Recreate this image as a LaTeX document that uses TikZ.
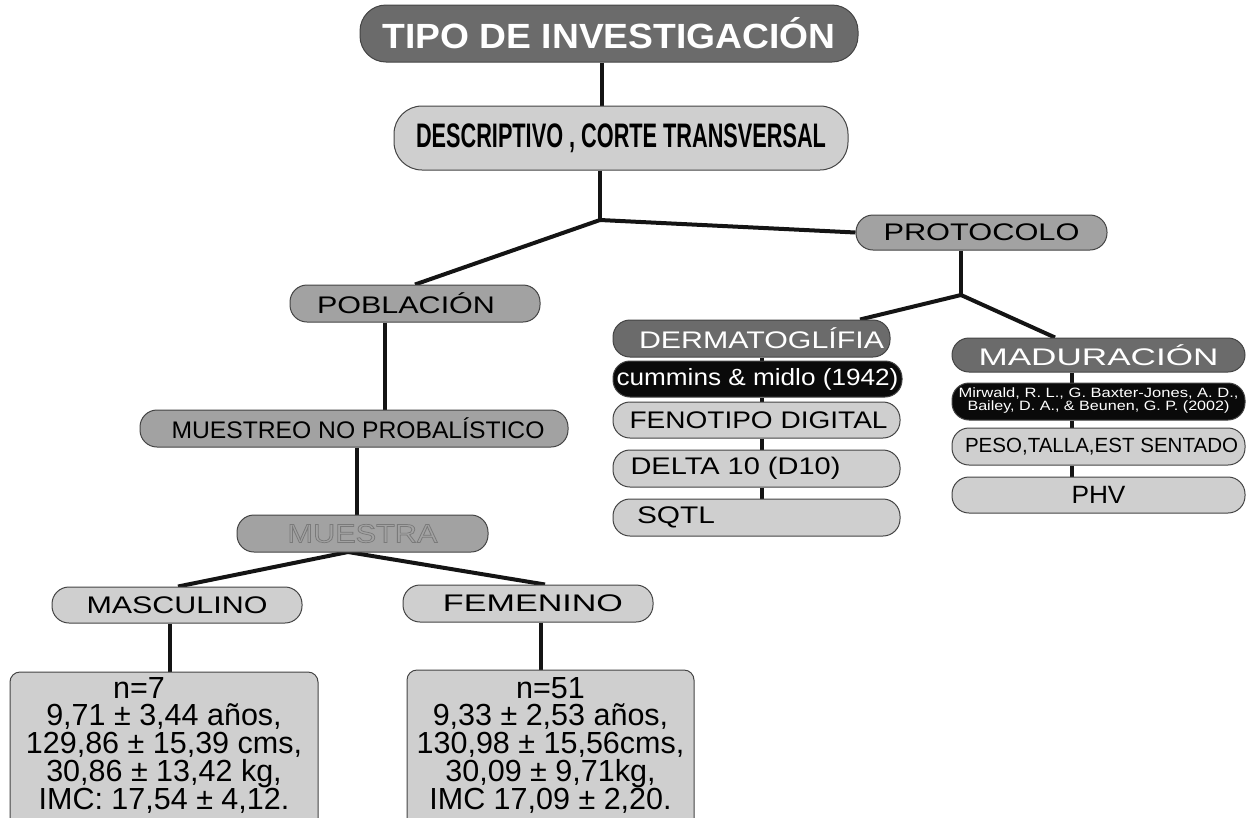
\documentclass[tikz,border=0pt]{standalone}
\usepackage{fontspec}
\setmainfont{Liberation Sans}
\usepackage{graphicx}
\usetikzlibrary{backgrounds}
\definecolor{dk}{HTML}{6B6B6B}
\definecolor{md}{HTML}{A2A2A2}
\definecolor{lt}{HTML}{CFCFCF}
\definecolor{bd}{HTML}{444444}
\definecolor{blk}{HTML}{0A0A0A}
\definecolor{outl}{HTML}{7A7A7A}
\newcommand{\tx}[3]{{\fontsize{#2}{#2}\selectfont\resizebox{#1}{\height}{#3}}}
\tikzset{
  pill/.style={draw=bd, line width=1pt, rounded corners=17pt, inner sep=0pt, text=black},
  darkpill/.style={pill, fill=dk, text=white},
  midpill/.style={pill, fill=md},
  lightpill/.style={pill, fill=lt},
  blackpill/.style={pill, fill=blk, text=white},
  statbox/.style={draw=bd, line width=1pt, rounded corners=10pt, fill=lt, inner sep=0pt},
  stattext/.style={anchor=north, align=center, inner sep=0pt, font=\fontsize{30.5pt}{27.8pt}\selectfont},
  conn/.style={line width=4pt, draw=black!92}
}
\begin{document}
\begin{tikzpicture}[x=1pt,y=-1pt]
\useasboundingbox (0,0) rectangle (1249,817);
% top
\node[darkpill, minimum width=498pt, minimum height=57pt, rounded corners=26pt] (tipo) at (609,33.5)
  {\tx{453pt}{35pt}{\bfseries TIPO DE INVESTIGACIÓN}};
\node[lightpill, minimum width=454pt, minimum height=64pt, rounded corners=28pt] (desc) at (621,138)
  {\tx{410pt}{34pt}{\bfseries DESCRIPTIVO , CORTE TRANSVERSAL}};
\node[midpill, minimum width=251pt, minimum height=35pt] (proto) at (981.5,232.5)
  {\tx{196pt}{24pt}{PROTOCOLO}};
% left branch
\node[midpill, minimum width=250pt, minimum height=37pt] (pobl) at (415,303.5)
  {\tx{178pt}{24pt}{POBLACIÓN}\hspace*{18pt}};
\node[midpill, minimum width=428pt, minimum height=37pt] (muestreo) at (354,428.5)
  {\hspace*{8pt}\tx{373pt}{24pt}{MUESTREO NO PROBALÍSTICO}};
\node[midpill, minimum width=251pt, minimum height=37pt] (muestra) at (362.5,533.5)
  {\tx{150pt}{26pt}{\special{pdf:literal direct 1 Tr 0.7 w}\textcolor{outl}{MUESTRA}\special{pdf:literal direct 0 Tr}}};
\node[lightpill, minimum width=250pt, minimum height=36pt] (masc) at (177,605)
  {\tx{181pt}{24pt}{MASCULINO}};
\node[lightpill, minimum width=250pt, minimum height=37pt] (fem) at (528,603.5)
  {\hspace*{10pt}\tx{180pt}{24pt}{FEMENINO}};
\node[statbox, minimum width=308pt, minimum height=160pt] (statm) at (164,752) {};
\node[statbox, minimum width=287pt, minimum height=162pt] (statf) at (550.5,751) {};
\node[stattext] (txm) at (164,677)
  {n=7\hspace*{50pt}\\ 9,71 ± 3,44 años,\\ 129,86 ± 15,39 cms,\\ 30,86 ± 13,42 kg,\\ IMC: 17,54 ± 4,12.};
\node[stattext] (txf) at (550.5,677)
  {n=51\\ 9,33 ± 2,53 años,\\ 130,98 ± 15,56cms,\\ 30,09 ± 9,71kg,\\ IMC 17,09 ± 2,20.};
% protocol left column
\node[darkpill, minimum width=277pt, minimum height=37pt] (derm) at (751.5,338.5)
  {\hspace*{20pt}\tx{245pt}{24pt}{DERMATOGLÍFIA}};
\node[blackpill, minimum width=289pt, minimum height=36pt] (cumm) at (757.5,379)
  {\tx{282pt}{23.5pt}{cummins \& midlo (1942)}};
\node[lightpill, minimum width=287pt, minimum height=36pt] (feno) at (756.5,420)
  {\hspace*{4pt}\tx{258pt}{24pt}{FENOTIPO DIGITAL}};
\node[lightpill, minimum width=287pt, minimum height=37pt] (delta) at (756.5,468.5)
  {\tx{210pt}{24pt}{DELTA 10 (D10)}\hspace*{42pt}};
\node[lightpill, minimum width=287pt, minimum height=37pt] (sqtl) at (756.5,517.5)
  {\tx{78pt}{24pt}{SQTL}\hspace*{161pt}};
% protocol right column
\node[darkpill, minimum width=293pt, minimum height=34pt] (madu) at (1098.5,355)
  {\tx{240pt}{24pt}{MADURACIÓN}};
\node[blackpill, minimum width=293pt, minimum height=37pt] (mirw) at (1098.5,401.5)
  {\fontsize{13.5pt}{13.5pt}\selectfont\begin{tabular}{@{}c@{}}\resizebox{280pt}{\height}{Mirwald, R. L., G. Baxter-Jones, A. D.,}\\[-1pt]\resizebox{262pt}{\height}{Bailey, D. A., \& Beunen, G. P. (2002)}\end{tabular}};
\node[lightpill, minimum width=293pt, minimum height=37pt] (peso) at (1098.5,446.5)
  {\hspace*{6pt}\tx{273pt}{20.5pt}{PESO,TALLA,EST SENTADO}};
\node[lightpill, minimum width=293pt, minimum height=36pt] (phv) at (1098.5,495)
  {\tx{54pt}{25pt}{PHV}};
% junctions
\coordinate (j1) at (600,220);
\coordinate (j2) at (961,295);
\coordinate (j3) at (348,552);
\begin{pgfonlayer}{background}
\draw[conn] (602,0 |- tipo.south) -- (602,0 |- desc.north);
\draw[conn] (600,0 |- desc.south) -- (j1);
\draw[conn] (j1) -- (pobl.north);
\draw[conn] (j1) -- (proto.west);
\draw[conn] (961,0 |- proto.south) -- (j2);
\draw[conn] (j2) -- (860,0 |- derm.north);
\draw[conn] (j2) -- (1055,0 |- madu.north);
\draw[conn] (385,0 |- pobl.south) -- (385,0 |- muestreo.north);
\draw[conn] (357,0 |- muestreo.south) -- (357,0 |- muestra.north);
\draw[conn] (j3) -- (178,0 |- masc.north);
\draw[conn] (j3) -- (545,0 |- fem.north);
\draw[conn] (170,0 |- masc.south) -- (170,0 |- statm.north);
\draw[conn] (541,0 |- fem.south) -- (541,0 |- statf.north);
\draw[conn] (762,0 |- derm.south) -- (762,0 |- cumm.north);
\draw[conn] (762,0 |- cumm.south) -- (762,0 |- feno.north);
\draw[conn] (762,0 |- feno.south) -- (762,0 |- delta.north);
\draw[conn] (762,0 |- delta.south) -- (762,0 |- sqtl.north);
\draw[conn] (1072,0 |- madu.south) -- (1072,0 |- mirw.north);
\draw[conn] (1072,0 |- mirw.south) -- (1072,0 |- peso.north);
\draw[conn] (1072,0 |- peso.south) -- (1072,0 |- phv.north);
\end{pgfonlayer}
\end{tikzpicture}
\end{document}
